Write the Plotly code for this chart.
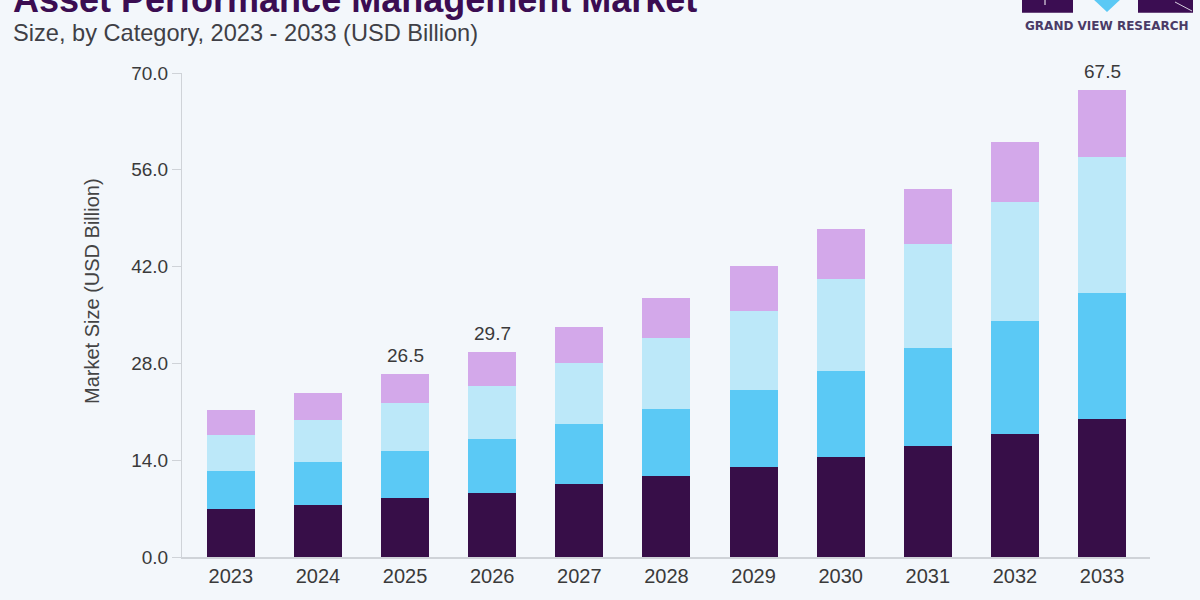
import plotly.graph_objects as go

years = ["2023", "2024", "2025", "2026", "2027", "2028", "2029", "2030", "2031", "2032", "2033"]
seg_a = [6.9, 7.5, 8.5, 9.3, 10.5, 11.7, 13.0, 14.4, 16.0, 17.8, 19.9]
seg_b = [5.5, 6.2, 6.9, 7.7, 8.7, 9.7, 11.1, 12.5, 14.3, 16.3, 18.3]
seg_c = [5.3, 6.1, 6.9, 7.8, 8.8, 10.3, 11.5, 13.3, 14.9, 17.2, 19.6]
seg_d = [3.6, 3.9, 4.2, 4.9, 5.3, 5.7, 6.5, 7.2, 8.0, 8.7, 9.7]
labeled_years = ["2025", "2026", "2033"]
y_ticks = [0, 14, 28, 42, 56, 70]

colors = ["#370e48", "#5bc9f5", "#bce8f9", "#d3a8ea"]
series = [seg_a, seg_b, seg_c, seg_d]

W, H = 1200, 600
ML, MR, MT, MB = 182, 50, 73, 43
PW, PH = W - ML - MR, H - MT - MB

def fx(x):
    return (x - ML) / PW

def fy(y):
    return (H - MB - y) / PH

FONT = "Liberation Sans, Arial"

fig = go.Figure()
for vals, col in zip(series, colors):
    fig.add_trace(go.Bar(x=years, y=vals, marker=dict(color=col, line=dict(width=0)),
                         width=0.55, showlegend=False, hoverinfo="skip"))

totals = [round(a + b + c + d, 1) for a, b, c, d in zip(*series)]
for i, (yr, tot) in enumerate(zip(years, totals)):
    if yr in labeled_years:
        fig.add_annotation(x=i, y=tot, xref="x", yref="y", text=f"{tot:.1f}", showarrow=False,
                           yanchor="bottom", yshift=6,
                           font=dict(family=FONT, size=19, color="#3a3a3a"))

fig.update_layout(
    width=W, height=H,
    barmode="stack",
    paper_bgcolor="#f3f7fb", plot_bgcolor="#f3f7fb",
    margin=dict(l=ML, r=MR, t=MT, b=MB, pad=0),
    xaxis=dict(type="category", range=[-0.56, 10.55], showgrid=False,
               showline=True, linecolor="#cfd3d8", linewidth=1.5,
               ticks="", tickfont=dict(family=FONT, size=20, color="#3a3a3a"),
               ticklabelstandoff=0),
    yaxis=dict(range=[0, 70], tickvals=y_ticks, ticktext=[f"{v:.1f}" for v in y_ticks],
               showgrid=False, zeroline=False, showline=True, linecolor="#cfd3d8", linewidth=1,
               ticks="outside", ticklen=9, tickcolor="#cfd3d8", tickwidth=1,
               tickfont=dict(family=FONT, size=19, color="#3a3a3a")),
    font=dict(family=FONT),
)

# axis title
fig.add_annotation(xref="paper", yref="paper", x=fx(92), y=fy(291),
                   text="Market Size (USD Billion)", textangle=-90, showarrow=False,
                   font=dict(family=FONT, size=20, color="#444444"),
                   xanchor="center", yanchor="middle")

# title and subtitle
fig.add_annotation(xref="paper", yref="paper", x=fx(11), y=fy(0),
                   text="<b>Asset Performance Management Market</b>", showarrow=False,
                   xanchor="left", yanchor="middle",
                   font=dict(family=FONT, size=36, color="#3b0d52"))
fig.add_annotation(xref="paper", yref="paper", x=fx(11), y=fy(33),
                   text="Size, by Category, 2023 - 2033 (USD Billion)", showarrow=False,
                   xanchor="left", yanchor="middle",
                   font=dict(family=FONT, size=23.6, color="#3f3f46"))

# logo
fig.add_shape(type="rect", xref="paper", yref="paper",
              x0=fx(1022), x1=fx(1073), y0=fy(12.7), y1=fy(-2),
              fillcolor="#3b0d52", line=dict(width=0))
fig.add_shape(type="rect", xref="paper", yref="paper",
              x0=fx(1138), x1=fx(1193), y0=fy(12.7), y1=fy(-2),
              fillcolor="#3b0d52", line=dict(width=0))
fig.add_shape(type="path", xref="paper", yref="paper",
              path=f"M {fx(1092)} {fy(-2)} L {fx(1122)} {fy(-2)} L {fx(1107)} {fy(12)} Z",
              fillcolor="#5bc9f5", line=dict(width=0))
fig.add_shape(type="line", xref="paper", yref="paper",
              x0=fx(1045), x1=fx(1045), y0=fy(0), y1=fy(5),
              line=dict(color="#ffffff", width=1))
fig.add_shape(type="line", xref="paper", yref="paper",
              x0=fx(1175), x1=fx(1192), y0=fy(2), y1=fy(11),
              line=dict(color="#d8d0e0", width=1))
fig.add_annotation(xref="paper", yref="paper", x=fx(1107), y=fy(26), text="<b>GRAND VIEW RESEARCH</b>",
                   showarrow=False, xanchor="center", yanchor="middle",
                   font=dict(family="DejaVu Sans", size=12, color="#4a3b66"))

fig.write_html("out.html")
